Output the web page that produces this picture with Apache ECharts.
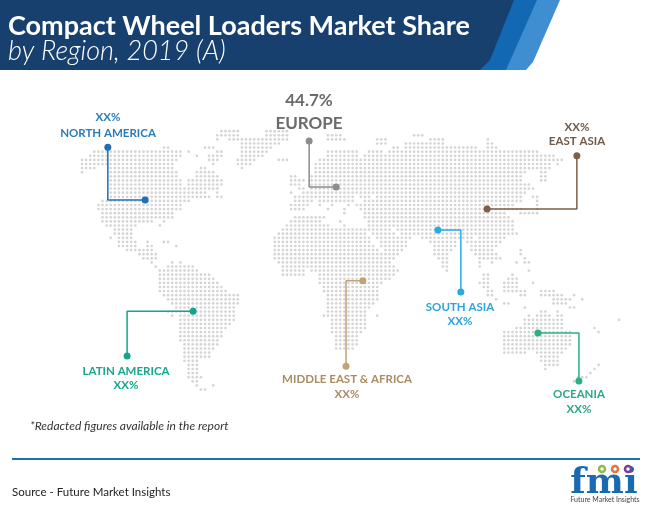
<!DOCTYPE html>
<html>
<head>
<meta charset="utf-8">
<style>html,body{margin:0;padding:0;background:#fff}#chart{width:650px;height:510px}</style>
<script src="https://cdn.jsdelivr.net/npm/echarts@6/dist/echarts.min.js"></script>
</head>
<body>
<div id="chart"></div>
<script>
// dot map: [row, first column, last column]
const northAmericaRuns = [
  [32,54,58],[32,65,70],[33,53,58],[33,65,70],[34,53,53],[34,56,70],[35,59,68],
  [36,40,41],[36,50,52],[36,59,66],
  [37,23,32],[37,33,39],[37,40,44],[37,46,46],[37,53,54],[37,59,65],
  [38,22,44],[38,48,48],[38,51,54],[38,59,64],
  [39,20,43],[39,51,53],[39,58,62],[39,68,70],
  [40,20,24],[40,25,42],[40,52,52],[40,58,61],
  [41,20,23],[41,27,42],[41,49,50],[41,59,59],
  [42,20,20],[42,27,43],[42,48,52],[43,27,43],[43,48,53],[44,27,44],[44,46,54],
  [45,27,44],[45,46,54],[46,27,53],[47,27,50],[47,53,53],[48,27,51],[48,53,54],
  [49,25,46],[50,24,44],[51,24,44],[52,25,42],[53,25,42],[54,25,37],[54,40,40],
  [55,26,33],[55,39,39],[56,28,32],[57,28,32],[58,27,27],[58,29,32],
  [59,29,33],[59,36,36],[59,40,41],[60,29,33],[60,36,37],[60,43,43],
  [61,31,37],[62,34,38],[63,35,38],[64,37,37],[64,42,42],[64,44,44]
];
const southAmericaRuns = [
  [65,38,38],[65,41,47],[66,39,48],[67,39,51],[68,39,52],[69,39,53],[70,39,54],[71,39,55],
  [72,40,58],[73,41,58],[74,42,58],[75,43,57],[76,41,57],[77,42,42],[77,44,57],[78,44,57],
  [79,44,56],[80,44,55],[81,44,54],[82,44,54],[83,44,53],[84,45,53],[85,45,52],[86,45,51],
  [87,45,51],[88,45,48],[89,46,48],[90,46,48],[91,46,48],[92,46,49],[93,47,48],
  [94,48,48],[94,52,52],[95,49,50]
];
const eurasiaRuns = [
  [33,80,83],[33,101,103],[34,80,84],[34,92,94],[34,105,108],[34,119,119],
  [35,92,94],[35,99,108],[35,119,120],[36,96,97],[36,99,116],[36,119,121],
  [37,80,87],[37,90,93],[37,95,131],[38,80,87],[38,89,135],[39,78,136],[39,137,137],
  [40,77,134],[40,136,136],[41,77,134],[42,77,128],[42,132,133],
  [43,71,72],[43,76,127],[43,132,133],[44,71,74],[44,76,127],[44,132,133],
  [45,71,73],[45,76,129],[46,73,74],[46,76,130],[47,71,71],[47,74,128],
  [48,72,86],[48,88,90],[48,92,127],[48,130,131],
  [49,72,76],[49,78,86],[49,89,127],[49,131,131],
  [50,71,75],[50,78,78],[50,81,81],[50,85,85],[50,87,125],[50,131,131],
  [51,71,74],[51,80,80],[51,84,84],[51,88,125],[51,126,127],[51,131,131],
  [52,84,84],[52,89,123],[52,127,131],[53,72,79],[53,89,124],
  [54,71,78],[54,83,83],[54,90,125],[55,70,80],[55,84,84],[55,90,125],
  [56,69,89],[56,90,95],[56,97,125],[57,68,89],[57,91,96],[57,98,126],
  [58,67,90],[58,92,100],[58,103,115],[58,117,123],
  [59,67,90],[59,93,99],[59,105,111],[59,114,122],
  [60,67,91],[60,93,99],[60,106,111],[60,115,121],
  [61,67,92],[61,94,98],[61,106,110],[61,115,120],[61,127,127],
  [62,67,93],[62,94,97],[62,106,109],[62,116,121],[62,127,127],
  [63,67,94],[63,95,96],[63,107,109],[63,117,122],[63,128,128],
  [64,68,95],[64,108,109],[64,117,117],[64,120,120],[64,126,126],[64,128,129],
  [65,69,96],[65,108,109],[65,117,117],[66,69,74],[66,76,97],[66,109,109],[66,129,129],
  [67,69,74],[67,78,96],[67,118,119],[67,125,125],[68,78,95],[68,118,119],[68,124,126],
  [69,78,93],[69,117,119],[69,123,126],[69,130,130],[70,79,92],[70,118,119],[70,123,126],
  [71,79,92],[71,119,120],[71,123,128],[72,80,92],[72,119,120],[72,127,128],
  [73,80,92],[73,121,121],[74,80,91],[74,123,124],[75,80,90],[75,128,128],
  [76,80,89],[77,79,89],[77,92,92],[78,81,89],[79,81,89],[80,81,89],[81,81,88],
  [82,82,87],[83,82,87],[84,82,87],[85,82,86]
];
const oceaniaRuns = [
  [71,132,135],[72,132,137],[72,140,140],[73,135,139],[73,142,142],[74,135,138],[75,139,140],
  [76,132,133],[76,136,136],[77,129,129],[77,131,134],[77,136,137],[78,128,135],[78,136,137],[78,151,151],
  [79,128,137],[80,126,137],[80,145,145],[81,123,139],[81,146,146],[82,123,139],[83,123,139],
  [84,123,139],[85,123,138],[86,123,128],[86,131,131],[86,132,137],[87,132,136],[88,132,136],
  [89,133,136],[89,146,146],[90,133,133],[90,145,145],[91,144,144],[92,141,143],[93,140,140]
];

const regionNames = ['NORTH AMERICA', 'EUROPE', 'EAST ASIA', 'SOUTH ASIA', 'MIDDLE EAST & AFRICA', 'LATIN AMERICA', 'OCEANIA'];
const regionValues = ['XX%', '44.7%', 'XX%', 'XX%', 'XX%', 'XX%', 'XX%'];
const regionColors = ['#1f6fb2', '#8c8c8c', '#7d5f48', '#29abe2', '#c3a374', '#12a58c', '#2bb088'];
const labelColors = ['#2b7cba', '#6b6b6b', '#6f5a4a', '#2ba5dc', '#a98d63', '#16a88d', '#2aa986'];
// leader lines in map units: [column, row]
const regionLeaders = [
  [[26.3,35.9],[26.3,48.8],[35.4,48.8]],
  [[75.4,34.4],[75.4,45.6],[82,45.6]],
  [[140.7,38],[140.7,51],[118.8,51]],
  [[106.8,56.1],[112.4,56.1],[112.4,71.2]],
  [[88.5,68.5],[84.4,68.5],[84.4,89.3]],
  [[47.1,75.9],[31,75.9],[31,86.8]],
  [[131.2,81.2],[141.2,81.2],[141.2,92.9]]
];
// label anchors: centre x, y of the first line, y of the second line
const labelPositions = [
  [108,117,133,'value'],[309,101,124,'value'],[577,127,141,'value'],
  [460,307,321,'name'],[347,379,394,'name'],[126,371,385,'name'],[579,394,409,'name']
];

const unit = 4.1;
const dots = [];
[northAmericaRuns, southAmericaRuns, eurasiaRuns, oceaniaRuns].forEach(runs => {
  runs.forEach(([row, first, last]) => {
    for (let col = first; col <= last; col++) dots.push([col, row]);
  });
});

const font = 'Lato, sans-serif';
const chart = echarts.init(document.getElementById('chart'), null, { renderer: 'canvas' });

const labelGraphics = [];
regionNames.forEach((name, i) => {
  const [cx, y1, y2, first] = labelPositions[i];
  const size = name === 'EUROPE' ? 17 : 11.5;
  const top = first === 'value' ? regionValues[i] : name;
  const bottom = first === 'value' ? name : regionValues[i];
  [[top, y1], [bottom, y2]].forEach(([text, y]) => {
    labelGraphics.push({
      type: 'text', x: cx, y: y,
      style: { text: text, fill: labelColors[i], font: `bold ${size}px ${font}`, textAlign: 'center', textVerticalAlign: 'middle' }
    });
  });
});

const option = {
  animation: false,
  backgroundColor: '#fff',
  grid: { left: 0, right: 0, top: 0, bottom: 0 },
  xAxis: { type: 'value', min: 0, max: 650 / unit, show: false },
  yAxis: { type: 'value', min: 0, max: 510 / unit, inverse: true, show: false },
  series: [
    {
      type: 'scatter',
      data: dots,
      symbolSize: 2.7,
      itemStyle: { color: '#cacaca' },
      silent: true
    }
  ].concat(regionLeaders.map((points, i) => ({
    type: 'line',
    data: points,
    z: 5,
    lineStyle: { color: regionColors[i], width: 1.5 },
    itemStyle: { color: regionColors[i] },
    symbol: 'circle',
    symbolSize: (v, p) => (p.dataIndex === 1 ? 0 : 7),
    showSymbol: true,
    showAllSymbol: true
  }))),
  graphic: [
    { type: 'polygon', shape: { points: [[505,0],[560,0],[533,62],[526,70],[503,70]] }, style: { fill: '#3f8ed2' } },
    { type: 'polygon', shape: { points: [[510,0],[537,0],[506,70],[478,70]] }, style: { fill: '#1268b3' } },
    { type: 'polygon', shape: { points: [[0,0],[514,0],[490,60],[480,70],[0,70]] }, style: { fill: '#17406f' } },
    { type: 'text', x: 8, y: 26, style: { text: 'Compact Wheel Loaders Market Share', fill: '#fff', font: `bold 27px ${font}`, textVerticalAlign: 'middle' } },
    { type: 'text', x: 8, y: 51, style: { text: 'by Region, 2019 (A)', fill: '#fff', font: `italic 300 27px ${font}`, textVerticalAlign: 'middle' } },
    { type: 'text', x: 30, y: 426, style: { text: '*Redacted figures available in the report', fill: '#333', font: `italic 12px ${font}`, textVerticalAlign: 'middle' } },
    { type: 'rect', shape: { x: 12, y: 458, width: 628, height: 2 }, style: { fill: '#1f6fb2' } },
    { type: 'text', x: 12, y: 492, style: { text: 'Source - Future Market Insights', fill: '#222', font: `11.5px ${font}`, textVerticalAlign: 'middle' } },
    { type: 'text', x: 604, y: 484, style: { text: 'fmi', fill: '#1a6ab0', font: 'bold 36px "DejaVu Serif", serif', textAlign: 'center', textVerticalAlign: 'middle' } },
    { type: 'circle', shape: { cx: 602, cy: 469, r: 3 }, style: { fill: '#fff', stroke: '#8dbb45', lineWidth: 2.5 } },
    { type: 'circle', shape: { cx: 615, cy: 469, r: 3 }, style: { fill: '#fff', stroke: '#e8743b', lineWidth: 2.5 } },
    { type: 'circle', shape: { cx: 628, cy: 469, r: 3 }, style: { fill: '#fff', stroke: '#7f3f98', lineWidth: 2.5 } },
    { type: 'text', x: 605, y: 500, style: { text: 'Future Market Insights', fill: '#444', font: `7px ${font}`, textAlign: 'center', textVerticalAlign: 'middle' } }
  ].concat(labelGraphics)
};
chart.setOption(option);
</script>
</body>
</html>
